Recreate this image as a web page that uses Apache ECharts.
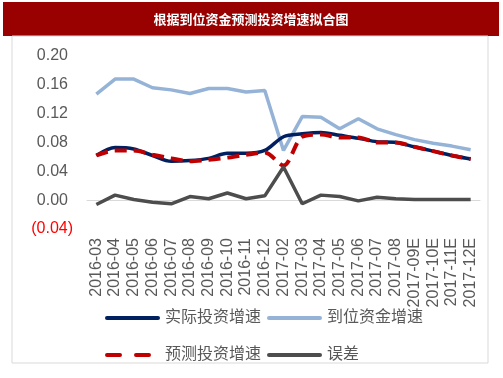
<!DOCTYPE html>
<html>
<head>
<meta charset="utf-8">
<script src="https://cdn.jsdelivr.net/npm/echarts@6/dist/echarts.min.js"></script>
<style>html,body{margin:0;padding:0;background:#fff;}#c{width:503px;height:378px;}</style>
</head>
<body>
<div id="c"></div>
<script>
var titleText = '根据到位资金预测投资增速拟合图';
var categories = ['2016-03','2016-04','2016-05','2016-06','2016-07','2016-08','2016-09','2016-10','2016-11','2016-12','2017-02','2017-03','2017-04','2017-05','2017-06','2017-07','2017-08','2017-09E','2017-10E','2017-11E','2017-12E'];
var actualInvest = [0.062,0.073,0.071,0.062,0.054,0.055,0.058,0.065,0.065,0.069,0.088,0.092,0.094,0.090,0.086,0.081,0.080,0.074,0.068,0.062,0.057];
var fundsArrived = [0.147,0.168,0.168,0.156,0.153,0.148,0.155,0.155,0.150,0.152,0.069,0.116,0.115,0.099,0.113,0.099,0.091,0.084,0.079,0.075,0.070];
var predictedInvest = [0.062,0.069,0.069,0.063,0.058,0.054,0.056,0.059,0.063,0.066,0.048,0.088,0.091,0.087,0.087,0.080,0.080,0.074,0.068,0.062,0.057];
var errorVals = [-0.006,0.007,0.001,-0.003,-0.005,0.005,0.002,0.010,0.002,0.006,0.046,-0.005,0.007,0.005,-0.001,0.004,0.002,0.001,0.001,0.001,0.001];
var seriesNames = ['实际投资增速','到位资金增速','预测投资增速','误差'];

var FONT = '"Liberation Sans", Arial, "Noto Sans CJK SC", sans-serif';
var SOLID_ICON = 'path://M2,0h51a2,2 0 0 1 0,4h-51a2,2 0 0 1 0,-4z';
var DASH_ICON = 'path://M2,0h13a2,2 0 0 1 0,4h-13a2,2 0 0 1 0,-4z M31,0h13a2,2 0 0 1 0,4h-13a2,2 0 0 1 0,-4z M55,0L55,4L55,0z';
var chart = echarts.init(document.getElementById('c'), null, {renderer: 'canvas'});
var legendText = {color: '#595959', fontSize: 16, fontFamily: FONT};
chart.setOption({
  animation: false,
  backgroundColor: '#fff',
  textStyle: {fontFamily: FONT},
  graphic: [
    {type: 'rect', shape: {x: 3, y: 2, width: 496, height: 34}, style: {fill: '#990000'}, silent: true},
    {type: 'rect', shape: {x: 12, y: 36, width: 476, height: 327}, style: {fill: 'none', stroke: '#d9d9d9', lineWidth: 1}, silent: true},
    {type: 'text', x: 251, y: 19, style: {text: titleText, fill: '#ffffff', font: 'bold 13px "Noto Sans CJK SC", sans-serif', align: 'center', verticalAlign: 'middle'}, silent: true}
  ],
  grid: {left: 87, right: 23, top: 56, bottom: 149, containLabel: false},
  legend: [
    {data: [{name: seriesNames[0], icon: SOLID_ICON}, {name: seriesNames[1], icon: SOLID_ICON}], left: 100, top: 305, itemWidth: 55, itemHeight: 4, itemGap: 6, textStyle: legendText, selectedMode: false},
    {data: [{name: seriesNames[2], icon: DASH_ICON}, {name: seriesNames[3], icon: SOLID_ICON}], left: 100, top: 342, itemWidth: 55, itemHeight: 4, itemGap: 6, textStyle: legendText, selectedMode: false}
  ],
  xAxis: {
    type: 'category',
    data: categories,
    boundaryGap: true,
    axisLine: {lineStyle: {color: '#d9d9d9', width: 1}},
    axisTick: {show: false},
    axisLabel: {rotate: 90, interval: 0, fontSize: 16, color: '#595959', margin: 9, fontFamily: FONT}
  },
  yAxis: {
    type: 'value',
    min: -0.04,
    max: 0.2,
    interval: 0.04,
    splitLine: {show: false},
    axisLine: {show: false},
    axisTick: {show: false},
    axisLabel: {
      margin: 14,
      formatter: function (v) {
        if (v < -1e-9) return '{n|(' + Math.abs(v).toFixed(2) + ')}';
        return '{p|' + Math.abs(v).toFixed(2) + '}';
      },
      rich: {
        n: {color: '#ff0000', fontSize: 16, fontFamily: FONT},
        p: {color: '#595959', fontSize: 16, fontFamily: FONT, padding: [0, 5, 0, 0]}
      }
    }
  },
  series: [
    {name: seriesNames[1], type: 'line', data: fundsArrived, symbol: 'none', lineStyle: {color: '#95b3d7', width: 3.5}, itemStyle: {color: '#95b3d7'}, z: 2},
    {name: seriesNames[0], type: 'line', data: actualInvest, symbol: 'none', smooth: 0.3, lineStyle: {color: '#002060', width: 3.5}, itemStyle: {color: '#002060'}, z: 3},
    {name: seriesNames[2], type: 'line', data: predictedInvest, symbol: 'none', smooth: 0.3, lineStyle: {color: '#c00000', width: 4, type: [12, 7]}, itemStyle: {color: '#c00000'}, z: 4},
    {name: seriesNames[3], type: 'line', data: errorVals, symbol: 'none', lineStyle: {color: '#4d4d4d', width: 3.5}, itemStyle: {color: '#4d4d4d'}, z: 5}
  ]
});
</script>
</body>
</html>
